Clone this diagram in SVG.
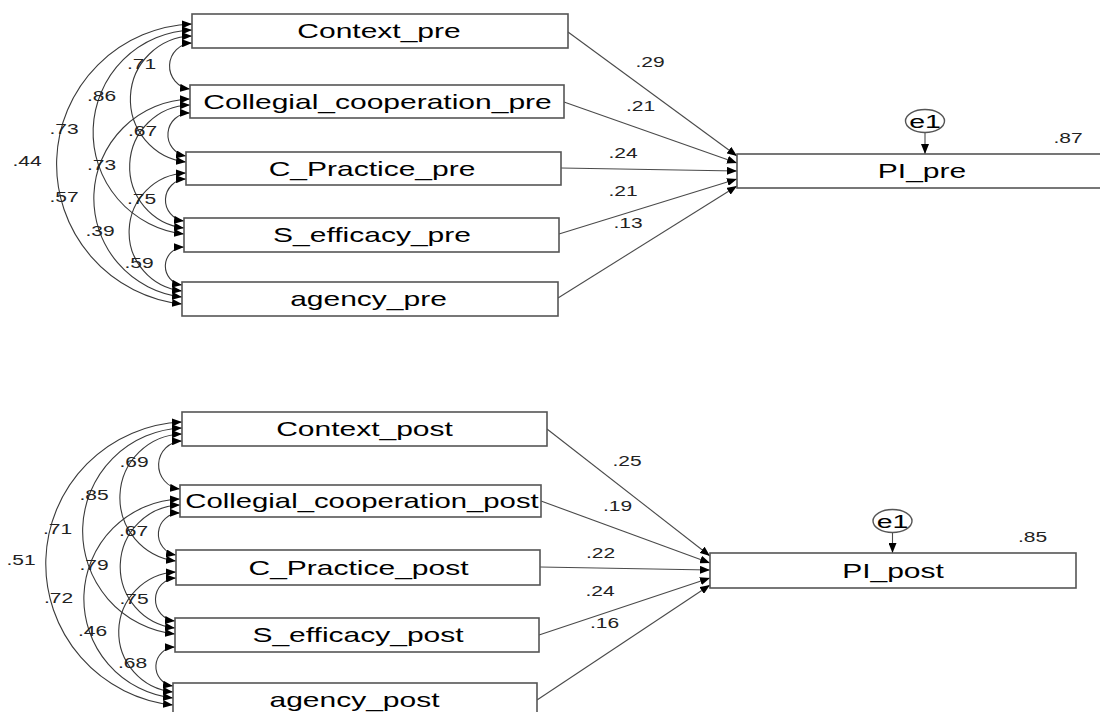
<svg xmlns="http://www.w3.org/2000/svg" width="1100" height="712" viewBox="0 0 1100 712">
<style>
.box{fill:#fff;stroke:#555;stroke-width:1.6}
.lbl{font-family:"Liberation Sans",Arial,sans-serif;font-size:20px;fill:#000;text-anchor:middle}
.num{font-family:"Liberation Sans",Arial,sans-serif;font-size:14px;fill:#222;text-anchor:middle}
.err{fill:#fff;stroke:#555;stroke-width:1.4}
.path{fill:none;stroke:#4a4a4a;stroke-width:1.1;marker-end:url(#ah)}
.cov{fill:none;stroke:#3a3a3a;stroke-width:1.1;marker-end:url(#ah);marker-start:url(#ahs)}
</style>
<defs>
<marker id="ah" viewBox="0 0 10 8" refX="10" refY="4" markerWidth="10" markerHeight="8" markerUnits="userSpaceOnUse" orient="auto"><path d="M0,0 L10,4 L0,8 z" fill="#000"/></marker>
<marker id="ahs" viewBox="0 0 10 8" refX="10" refY="4" markerWidth="10" markerHeight="8" markerUnits="userSpaceOnUse" orient="auto-start-reverse"><path d="M0,0 L10,4 L0,8 z" fill="#000"/></marker>
</defs>
<rect width="1100" height="712" fill="#fff"/>

<g id="connectors">
<!-- top covariances -->
<path class="cov" d="M192,43 A23.08,23.08 0 0 0 190,89"/>
<path class="cov" d="M190,113 A21.65,21.65 0 0 0 186,156"/>
<path class="cov" d="M186,179 A21.08,21.08 0 0 0 184,221"/>
<path class="cov" d="M184,247 A19.08,19.08 0 0 0 182,285"/>
<path class="cov" d="M192,36 A63.24,63.24 0 0 0 186,162"/>
<path class="cov" d="M190,105 A61.73,61.73 0 0 0 184,228"/>
<path class="cov" d="M186,173 A59.19,59.19 0 0 0 182,291"/>
<path class="cov" d="M192,30 A102.35,102.35 0 0 0 184,234"/>
<path class="cov" d="M190,99 A99.34,99.34 0 0 0 182,297"/>
<path class="cov" d="M192,24 A140.45,140.45 0 0 0 182,304"/>
<!-- top paths -->
<path class="path" d="M568,32 L737,156"/>
<path class="path" d="M564,102 L737,163"/>
<path class="path" d="M561,168 L737,171"/>
<path class="path" d="M559,234 L737,179"/>
<path class="path" d="M558,298 L737,186"/>
<path class="path" d="M925,132.5 L925,154"/>
<!-- bottom covariances -->
<path class="cov" d="M182,441 A24.08,24.08 0 0 0 180,489"/>
<path class="cov" d="M180,513 A21.15,21.15 0 0 0 176,555"/>
<path class="cov" d="M176,578 A21.56,21.56 0 0 0 175,621"/>
<path class="cov" d="M175,647 A19.58,19.58 0 0 0 173,686"/>
<path class="cov" d="M182,434 A63.74,63.74 0 0 0 176,561"/>
<path class="cov" d="M180,505 A61.71,61.71 0 0 0 175,628"/>
<path class="cov" d="M176,572 A60.18,60.18 0 0 0 173,692"/>
<path class="cov" d="M182,428 A103.33,103.33 0 0 0 175,634"/>
<path class="cov" d="M180,499 A99.82,99.82 0 0 0 173,698"/>
<path class="cov" d="M182,422 A141.94,141.94 0 0 0 173,705"/>
<!-- bottom paths -->
<path class="path" d="M547,429 L710,556"/>
<path class="path" d="M541,501 L710,563"/>
<path class="path" d="M540,567 L710,570"/>
<path class="path" d="M539,635 L710,578"/>
<path class="path" d="M537,700 L710,585"/>
<path class="path" d="M892.5,532.5 L892.5,553"/>
</g>

<g id="coef-labels">
<text class="num" transform="translate(141.5,69) scale(1.5,1)">.71</text>
<text class="num" transform="translate(101.5,101) scale(1.5,1)">.86</text>
<text class="num" transform="translate(64,134) scale(1.5,1)">.73</text>
<text class="num" transform="translate(27,166) scale(1.5,1)">.44</text>
<text class="num" transform="translate(142.5,136) scale(1.5,1)">.67</text>
<text class="num" transform="translate(101.5,170) scale(1.5,1)">.73</text>
<text class="num" transform="translate(64,202) scale(1.5,1)">.57</text>
<text class="num" transform="translate(141.5,204) scale(1.5,1)">.75</text>
<text class="num" transform="translate(100,236) scale(1.5,1)">.39</text>
<text class="num" transform="translate(139,268) scale(1.5,1)">.59</text>
<text class="num" transform="translate(650,67) scale(1.5,1)">.29</text>
<text class="num" transform="translate(640.5,111) scale(1.5,1)">.21</text>
<text class="num" transform="translate(623,158) scale(1.5,1)">.24</text>
<text class="num" transform="translate(623,196) scale(1.5,1)">.21</text>
<text class="num" transform="translate(628,228) scale(1.5,1)">.13</text>
<text class="num" transform="translate(1068,143) scale(1.5,1)">.87</text>
<text class="num" transform="translate(134,467) scale(1.5,1)">.69</text>
<text class="num" transform="translate(94,500) scale(1.5,1)">.85</text>
<text class="num" transform="translate(57.5,534) scale(1.5,1)">.71</text>
<text class="num" transform="translate(21,565) scale(1.5,1)">.51</text>
<text class="num" transform="translate(133.5,536) scale(1.5,1)">.67</text>
<text class="num" transform="translate(94,570) scale(1.5,1)">.79</text>
<text class="num" transform="translate(58.5,603) scale(1.5,1)">.72</text>
<text class="num" transform="translate(134,604) scale(1.5,1)">.75</text>
<text class="num" transform="translate(92.5,636) scale(1.5,1)">.46</text>
<text class="num" transform="translate(132.5,668) scale(1.5,1)">.68</text>
<text class="num" transform="translate(627,466) scale(1.5,1)">.25</text>
<text class="num" transform="translate(617.5,511) scale(1.5,1)">.19</text>
<text class="num" transform="translate(600.5,558) scale(1.5,1)">.22</text>
<text class="num" transform="translate(600,596) scale(1.5,1)">.24</text>
<text class="num" transform="translate(604.5,628) scale(1.5,1)">.16</text>
<text class="num" transform="translate(1032.5,542) scale(1.5,1)">.85</text>
</g>

<g id="Context_pre"><rect class="box" x="192" y="14" width="376" height="34"/><text class="lbl" transform="translate(379,38) scale(1.5,1)">Context_pre</text></g>
<g id="Collegial_cooperation_pre"><rect class="box" x="190" y="85" width="374" height="33"/><text class="lbl" transform="translate(377.5,108.5) scale(1.5,1)">Collegial_cooperation_pre</text></g>
<g id="C_Practice_pre"><rect class="box" x="186" y="152" width="375" height="33"/><text class="lbl" transform="translate(372,175.5) scale(1.5,1)">C_Practice_pre</text></g>
<g id="S_efficacy_pre"><rect class="box" x="184" y="218" width="375" height="34"/><text class="lbl" transform="translate(372,242) scale(1.5,1)">S_efficacy_pre</text></g>
<g id="agency_pre"><rect class="box" x="182" y="282" width="376" height="34"/><text class="lbl" transform="translate(368.5,306) scale(1.5,1)">agency_pre</text></g>
<g id="PI_pre"><rect class="box" x="737" y="154" width="372" height="34"/><text class="lbl" transform="translate(922,178) scale(1.5,1)">PI_pre</text></g>
<g id="e1_pre"><ellipse class="err" cx="925" cy="121" rx="19.5" ry="11.5"/><text class="lbl" transform="translate(925,127.5) scale(1.5,1)" style="font-size:19px">e1</text></g>

<g id="Context_post"><rect class="box" x="182" y="412" width="365" height="34"/><text class="lbl" transform="translate(364.5,436) scale(1.5,1)">Context_post</text></g>
<g id="Collegial_cooperation_post"><rect class="box" x="180" y="485" width="361" height="32"/><text class="lbl" transform="translate(362,508) scale(1.465,1)">Collegial_cooperation_post</text></g>
<g id="C_Practice_post"><rect class="box" x="176" y="550" width="364" height="35"/><text class="lbl" transform="translate(358.5,574.5) scale(1.5,1)">C_Practice_post</text></g>
<g id="S_efficacy_post"><rect class="box" x="175" y="618" width="364" height="34"/><text class="lbl" transform="translate(358,642) scale(1.5,1)">S_efficacy_post</text></g>
<g id="agency_post"><rect class="box" x="173" y="683" width="364" height="36"/><text class="lbl" transform="translate(354.5,707) scale(1.5,1)">agency_post</text></g>
<g id="PI_post"><rect class="box" x="710" y="553" width="366" height="35"/><text class="lbl" transform="translate(893,577.5) scale(1.5,1)">PI_post</text></g>
<g id="e1_post"><ellipse class="err" cx="892.5" cy="521" rx="19.5" ry="11.5"/><text class="lbl" transform="translate(892.5,527.5) scale(1.5,1)" style="font-size:19px">e1</text></g>
</svg>
